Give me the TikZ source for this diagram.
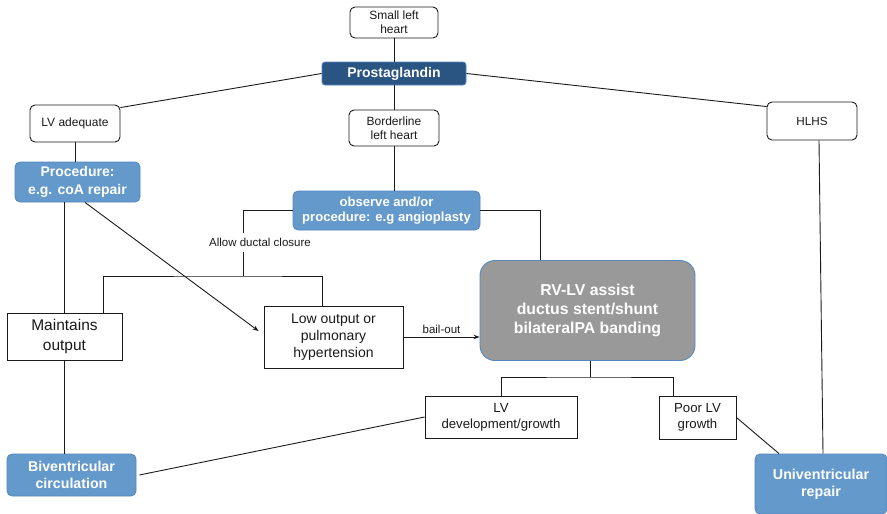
\documentclass[tikz,border=0pt]{standalone}
\usepackage{fontspec}
\setmainfont{Liberation Sans}
\usetikzlibrary{arrows.meta,calc}
\definecolor{dkblue}{HTML}{2A5482}
\definecolor{ltblue}{HTML}{6499CB}
\definecolor{bluebrd}{HTML}{5587BF}
\definecolor{grayfill}{HTML}{999999}
\definecolor{ink}{HTML}{1A1A1A}
\begin{document}
\begin{tikzpicture}[x=1pt,y=-1pt,
  conn/.style={draw=ink, line width=0.9pt},
  arr/.style={conn, -{Stealth[length=6pt,width=4.5pt]}},
  wbox/.style={draw=ink, line width=0.9pt, fill=white, rounded corners=5pt, align=center, inner sep=0pt, text=ink},
  rbox/.style={draw=ink, line width=0.9pt, fill=white, align=center, inner sep=0pt, text=ink},
  bbox/.style={draw=bluebrd, line width=0.8pt, fill=ltblue, rounded corners=5pt, align=center, inner sep=0pt, text=white, font=\bfseries\fontsize{14}{17.5}\selectfont},
  lbl/.style={inner sep=1pt, text=ink, font=\fontsize{11.5}{13}\selectfont}
]
\useasboundingbox (0,0) rectangle (887,514);
\fill[white] (0,0) rectangle (887,514);

\node[wbox, minimum width=88pt, minimum height=31pt, font=\fontsize{12}{14}\selectfont] (slh) at (394,22.5) {Small left\\heart};
\node[draw=bluebrd, line width=0.8pt, fill=dkblue, rounded corners=3pt, minimum width=144pt, minimum height=23pt, inner sep=0pt, text=white, font=\bfseries\fontsize{14}{16}\selectfont] (pg) at (394,73.5) {Prostaglandin};
\node[wbox, minimum width=90pt, minimum height=37pt, font=\fontsize{12}{14}\selectfont] (lva) at (75,123.5) {LV adequate};
\node[wbox, minimum width=90pt, minimum height=36pt, font=\fontsize{12}{14}\selectfont] (blh) at (394,128) {Borderline\\left heart};
\node[wbox, minimum width=90pt, minimum height=38pt, font=\fontsize{11.7}{14}\selectfont] (hlhs) at (812,121) {HLHS};
\node[bbox, minimum width=125pt, minimum height=40pt] (pc) at (77.5,182) {Procedure:\\e.g. coA repair};
\node[bbox, minimum width=187pt, minimum height=39pt, font=\bfseries\fontsize{13.1}{15.7}\selectfont] (obs) at (386.5,210.5) {observe and/or\\procedure: e.g angioplasty};
\node[lbl] (adc) at (260,242) {Allow ductal closure};
\node[rbox, minimum width=115pt, minimum height=47pt, font=\fontsize{15.5}{20}\selectfont] (mo) at (64.5,336.5) {Maintains\\output};
\node[rbox, minimum width=139pt, minimum height=62pt, font=\fontsize{14}{17}\selectfont] (lo) at (333.5,337) {Low output or\\pulmonary\\hypertension};
\node[draw=bluebrd, line width=0.9pt, fill=grayfill, rounded corners=15pt, minimum width=215pt, minimum height=100pt, inner sep=0pt, align=center, text=white, font=\bfseries\fontsize{15.8}{19}\selectfont] (rv) at (587.5,310.5) {RV-LV assist\\ductus stent/shunt\\bilateralPA banding};
\node[rbox, minimum width=152pt, minimum height=42pt, font=\fontsize{13.2}{16}\selectfont] (lvd) at (501,417) {LV\\development/growth};
\node[rbox, minimum width=77pt, minimum height=43pt, font=\fontsize{13.2}{16}\selectfont] (plv) at (697.5,417.5) {Poor LV\\growth};
\node[bbox, minimum width=129pt, minimum height=42pt, font=\bfseries\fontsize{14.2}{17}\selectfont] (bc) at (71.5,475) {Biventricular\\circulation};
\node[bbox, minimum width=132pt, minimum height=60pt, font=\bfseries\fontsize{14.3}{17}\selectfont] (ur) at (821,484) {Univentricular\\repair};

% connectors
\draw[conn] (slh.south) -- (pg.north);
\draw[conn] (pg.south) -- (blh.north);
\draw[conn] (blh.south) -- (blh.south |- obs.north);
\draw[conn] (pg.west) -- ($(lva.north east)+(0,3)$);
\draw[conn] (pg.east) -- ($(hlhs.north west)+(0,5)$);
\draw[conn] (lva.south) -- (lva.south |- pc.north);
\draw[conn] (pc.south -| mo.north) -- (mo.north);
\draw[arr] ([xshift=7.5pt]pc.south) -- ($(lo.west)+(-5,-6)$);

\coordinate (a1) at (243,233);
\coordinate (a2) at (243,252);
\coordinate (j1) at (243,276);
\draw[conn] (obs.west) -| (a1);
\draw[conn] (a2) -- (j1);
\draw[conn] ([xshift=38.5pt]mo.north) |- (j1) -| ([xshift=-11.5pt]lo.north);

\draw[conn] (obs.east) -| ([xshift=-47.5pt]rv.north);
\draw[arr] (lo.east) -- node[lbl, above=2pt] {bail-out} (lo.east -| rv.west);

\coordinate (j2) at (590,377);
\draw[conn] (rv.south -| j2) -- (j2);
\draw[conn] (lvd.north) |- (j2) -| ([xshift=-24.5pt]plv.north);

\draw[conn] (mo.south) -- (mo.south |- bc.north);
\draw[conn] (lvd.west) -- ([xshift=3pt]bc.east);
\draw[conn] ([xshift=7pt]hlhs.south) -- ([xshift=2pt]ur.north);
\draw[conn] (plv.east) -- ([xshift=-42pt]ur.north);
\end{tikzpicture}
\end{document}
